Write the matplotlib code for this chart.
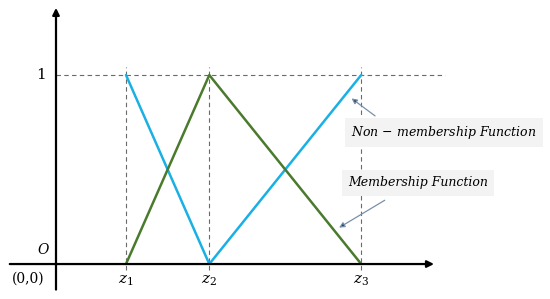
import matplotlib.pyplot as plt

# breakpoints on the horizontal axis
z_names = ['$z_1$', '$z_2$', '$z_3$']
z_vals = [1.0, 2.19, 4.36]

# membership (green) and non-membership (blue) polylines
mem_x = [1.0, 2.19, 4.36]
mem_y = [0, 1, 0]
non_x = [1.0, 2.19, 4.36]
non_y = [1, 0, 1]

plt.rcParams['mathtext.fontset'] = 'dejavuserif'
plt.rcParams['font.family'] = ['DejaVu Serif']

fig = plt.figure(figsize=(5.5, 2.99), dpi=100)
ax = fig.add_axes([0, 0, 1, 1])
ax.set_xlim(-0.8, 7.057)
ax.set_ylim(-0.185, 1.397)
ax.axis('off')

# axes with arrows
ax.annotate('', xy=(5.44, 0), xytext=(-0.7, 0),
            arrowprops=dict(arrowstyle='-|>', color='black', lw=1.6, mutation_scale=10))
ax.annotate('', xy=(0, 1.37), xytext=(0, -0.15),
            arrowprops=dict(arrowstyle='-|>', color='black', lw=1.6, mutation_scale=10))

# guides
ax.plot([0, 5.56], [1, 1], ls='--', color='#6a6a6a', lw=0.8, dashes=(4, 3))
for z in z_vals:
    ax.plot([z, z], [-0.03, 1.04], ls='--', color='#6a6a6a', lw=0.8, dashes=(4, 3))

ax.plot(non_x, non_y, color='#1ab0e4', lw=1.8, solid_capstyle='round')
ax.plot(mem_x, mem_y, color='#4a7a2c', lw=1.8, solid_capstyle='round')

# labels
for name, z in zip(z_names, z_vals):
    ax.text(z, -0.09, name, ha='center', va='center', fontsize=11)
ax.text(-0.22, 1, '1', ha='center', va='center', fontsize=11)
ax.text(-0.19, 0.075, 'O', ha='center', va='center', fontsize=10, style='italic')
ax.text(-0.4, -0.075, '(0,0)', ha='center', va='center', fontsize=10)

box = dict(boxstyle='square,pad=0.5', fc='#f3f3f3', ec='none')
arrow = dict(arrowstyle='-|>', fc='#1f3d66', ec='#7890aa', lw=0.9, mutation_scale=8)
ax.annotate('Non $-$ membership Function', xy=(4.19, 0.885), xytext=(5.54, 0.695),
            ha='center', va='center', fontsize=9, style='italic', bbox=box)
ax.annotate('', xy=(4.19, 0.885), xytext=(4.59, 0.775), arrowprops=arrow)
ax.annotate('Membership Function', xy=(4.01, 0.185), xytext=(5.17, 0.43),
            ha='center', va='center', fontsize=9, style='italic', bbox=box)
ax.annotate('', xy=(4.01, 0.185), xytext=(4.73, 0.345), arrowprops=arrow)

fig.savefig('out.png', dpi=100)
